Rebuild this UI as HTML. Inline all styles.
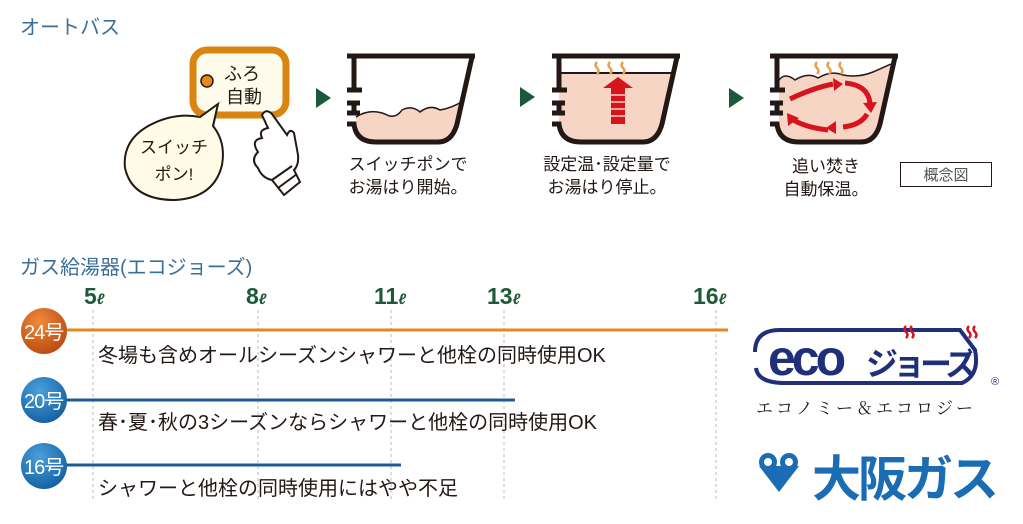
<!DOCTYPE html>
<html><head><meta charset="utf-8"><style>
html,body{margin:0;padding:0;background:#fff;}
svg{display:block;font-family:"Liberation Sans","Noto Sans CJK JP",sans-serif;}
</style></head><body>
<svg width="1023" height="524" viewBox="0 0 1023 524" xmlns="http://www.w3.org/2000/svg">
<defs>
<radialGradient id="og" cx="0.4" cy="0.3" r="0.8"><stop offset="0" stop-color="#f08a3a"/><stop offset="1" stop-color="#b3440c"/></radialGradient>
<radialGradient id="bg" cx="0.4" cy="0.3" r="0.8"><stop offset="0" stop-color="#4aa0dc"/><stop offset="1" stop-color="#0f5a9c"/></radialGradient>
<g id="tub">
  <g fill="none" stroke="#231815" stroke-width="5">
    <path d="M347,56 L475,56"/>
    <path d="M354,56 L354,90"/>
    <path d="M347,90 L362,90"/>
    <path d="M347,103 L360,103 M354,103 L354,113 M347,113 L360,113"/>
    <path d="M347,124 L354,124 Q356,142 376,142 L438,142 Q452,142 457,124 L472,57"/>
  </g>
</g>
<g id="steam" fill="none" stroke="#e8a050" stroke-width="2.5">
  <path d="M0,0 q-3,3 0,6 q3,3 0,6"/>
</g>
</defs>

<text x="20" y="34" font-size="20" fill="#3a6f9a">オートバス</text>

<path d="M150,125 Q175,112 200,117 L218,104 L213,126 Q226,142 222,165 Q214,198 175,200 Q132,200 125,168 Q122,140 150,125 Z" fill="#fffbe6" stroke="#231815" stroke-width="2"/>
<text x="174" y="153" font-size="17" text-anchor="middle" fill="#231815">スイッチ</text>
<text x="174" y="180" font-size="17" text-anchor="middle" fill="#231815">ポン!</text>

<rect x="193" y="50" width="93" height="65" rx="14" fill="#fffbea" stroke="#d98512" stroke-width="7"/>
<circle cx="207" cy="81" r="6" fill="#e8891a" stroke="#231815" stroke-width="1.5"/>
<text x="242" y="80" font-size="18" text-anchor="middle" fill="#231815">ふろ</text>
<text x="244" y="103" font-size="18" text-anchor="middle" fill="#231815">自動</text>
<path d="M200,117 L218,104 L213,126" fill="#fffbe6" stroke="#231815" stroke-width="2"/>

<path d="M262,115 Q266,108 272,114 L287,135 Q290,128 294,133 L298,155 Q299,165 294,170 L300,182 L284,195 L272,180 Q262,178 258,168 Q250,160 258,152 Q250,140 262,138 Q258,130 268,128 Z" fill="#fff" stroke="#231815" stroke-width="2"/>
<path d="M272,180 L292,166 M278,188 L297,174" stroke="#231815" stroke-width="2" fill="none"/>

<path d="M316,88 L331,98 L316,108 Z" fill="#1a5a3a"/>
<path d="M520,87 L535,97 L520,107 Z" fill="#1a5a3a"/>
<path d="M729,88 L744,98 L729,108 Z" fill="#1a5a3a"/>

<path d="M356,117 Q370,108 385,114 Q395,120 402,110 Q412,105 420,112 Q430,104 440,110 Q452,108 463,101 L457,124 Q452,142 438,142 L376,142 Q357,142 356,128 Z" fill="#f6d5c4"/>
<path d="M356,117 Q370,108 385,114 Q395,120 402,110 Q412,105 420,112 Q430,104 440,110 Q452,108 463,101" fill="none" stroke="#231815" stroke-width="1.5"/>
<use href="#tub"/>
<text x="408" y="170" font-size="17" text-anchor="middle" fill="#231815">スイッチポンで</text>
<text x="408" y="193" font-size="17" text-anchor="middle" fill="#231815">お湯はり開始。</text>

<g transform="translate(205,0)">
<path d="M354,73 L470,73 L457,124 Q452,142 438,142 L376,142 Q357,142 354,124 Z" fill="#f6d5c4"/>
<path d="M354,73 L470,73" stroke="#231815" stroke-width="2"/>
<use href="#tub"/>
<path d="M398,88 L413,77 L428,88 Z M406,88 L420,88 L420,124 L406,124 Z" fill="#d7141e"/>
<path d="M405,95 L421,95 M405,102 L421,102 M405,109 L421,109 M405,116 L421,116" stroke="#f6d5c4" stroke-width="1.5"/>
<use href="#steam" x="392" y="62"/><use href="#steam" x="405" y="62"/><use href="#steam" x="418" y="62"/>
</g>
<text x="607" y="170" font-size="17" text-anchor="middle" fill="#231815">設定温･設定量で</text>
<text x="607" y="193" font-size="17" text-anchor="middle" fill="#231815">お湯はり停止。</text>

<g transform="translate(423,0)">
<path d="M356,80 Q362,72 372,80 Q385,72 395,78 Q408,70 420,75 Q435,78 450,72 L468,64 L457,124 Q452,142 438,142 L376,142 Q357,142 356,128 Z" fill="#f6d5c4"/>
<path d="M356,80 Q362,72 372,80 Q385,72 395,78 Q408,70 420,75 Q435,78 450,72 L468,64" fill="none" stroke="#231815" stroke-width="1.5"/>
<use href="#tub"/>
<g fill="none" stroke="#d7141e" stroke-width="5">
<path d="M367,99 Q390,88 410,84"/><path d="M422,83 Q445,85 447,103"/><path d="M444,114 Q438,125 420,127"/><path d="M405,130 Q385,128 370,120"/>
</g>
<g fill="#d7141e"><path d="M410,78 L420,84 L411,91 Z"/><path d="M440,103 L448,113 L454,102 Z"/><path d="M413,121 L403,128 L413,134 Z"/><path d="M364,113 L365,126 L376,118 Z"/></g>
<use href="#steam" x="394" y="62"/><use href="#steam" x="406" y="62"/><use href="#steam" x="418" y="62"/>
</g>
<text x="826" y="172" font-size="17" text-anchor="middle" fill="#231815">追い焚き</text>
<text x="826" y="195" font-size="17" text-anchor="middle" fill="#231815">自動保温。</text>

<rect x="900.5" y="162.5" width="91" height="24" fill="#fff" stroke="#231815" stroke-width="1"/>
<text x="946" y="180" font-size="15" text-anchor="middle" fill="#555">概念図</text>

<text x="20" y="274" font-size="20" fill="#3a6f9a">ガス給湯器(エコジョーズ)</text>
<g font-size="23" font-weight="bold" fill="#1e5a3a" font-family="Liberation Sans Narrow,Liberation Sans,sans-serif">
<text x="84" y="304">5<tspan font-size="15" font-style="italic">ℓ</tspan></text>
<text x="246" y="304">8<tspan font-size="15" font-style="italic">ℓ</tspan></text>
<text x="374" y="304">11<tspan font-size="15" font-style="italic">ℓ</tspan></text>
<text x="487" y="304">13<tspan font-size="15" font-style="italic">ℓ</tspan></text>
<text x="693" y="304">16<tspan font-size="15" font-style="italic">ℓ</tspan></text>
</g>
<g stroke="#bbb" stroke-width="1" stroke-dasharray="3,3">
<path d="M93,310V500M258,310V500M391,310V500M504,310V500M716,310V500"/>
</g>
<path d="M60,330H728" stroke="#e08a1a" stroke-width="3"/>
<path d="M60,400H515" stroke="#1f5a95" stroke-width="3"/>
<path d="M60,465H401" stroke="#1f5a95" stroke-width="3"/>
<circle cx="44" cy="331" r="23" fill="url(#og)"/>
<circle cx="44" cy="400" r="23" fill="url(#bg)"/>
<circle cx="44" cy="466" r="23" fill="url(#bg)"/>
<g font-size="20" fill="#fff" font-family="Liberation Sans Narrow,Liberation Sans,Noto Sans CJK JP,sans-serif" letter-spacing="-1">
<text x="24" y="339">24号</text><text x="24" y="408">20号</text><text x="24" y="474">16号</text>
</g>
<g font-size="20" fill="#231815">
<text x="98" y="362">冬場も含めオールシーズンシャワーと他栓の同時使用OK</text>
<text x="98" y="429">春･夏･秋の3シーズンならシャワーと他栓の同時使用OK</text>
<text x="98" y="495">シャワーと他栓の同時使用にはやや不足</text>
</g>

<path d="M755,352 Q755,330 780,330 L960,330 L975,350 Q980,375 962,383 L785,383 Q758,383 756,368" fill="none" stroke="#1f2f7a" stroke-width="4"/>
<text x="768" y="375" font-size="50" font-weight="bold" fill="#1f2f7a" letter-spacing="-4" font-family="Liberation Sans,Noto Sans CJK JP,sans-serif">eco</text>
<text x="866" y="375" font-size="32" font-weight="bold" fill="#1f2f7a" letter-spacing="-5" font-family="Liberation Sans,Noto Sans CJK JP,sans-serif">ジョーズ</text>
<g stroke="#d7141e" stroke-width="2.5" fill="none"><path d="M906,326q-3,3 0,6q3,3 0,6M912,326q-3,3 0,6q3,3 0,6M969,326q-3,3 0,6q3,3 0,6M975,326q-3,3 0,6q3,3 0,6"/></g>
<text x="991" y="385" font-size="11" fill="#1f2f7a">®</text>
<text x="756" y="414" font-size="17" fill="#231815" letter-spacing="3" font-family="Liberation Serif,Noto Serif CJK SC,serif">エコノミー＆エコロジー</text>

<g fill="#1a6cb5">
<circle cx="768" cy="462" r="9"/><circle cx="789" cy="462" r="9"/>
<path d="M759,466 L779,492 L799,466 Z"/>
</g>
<circle cx="768" cy="462" r="4" fill="#fff"/><circle cx="789" cy="462" r="4" fill="#fff"/>
<text x="812" y="496" font-size="49" font-weight="bold" fill="#1a6cb5" letter-spacing="-3" font-family="Noto Sans CJK JP,sans-serif">大阪ガス</text>
</svg>
</body></html>
